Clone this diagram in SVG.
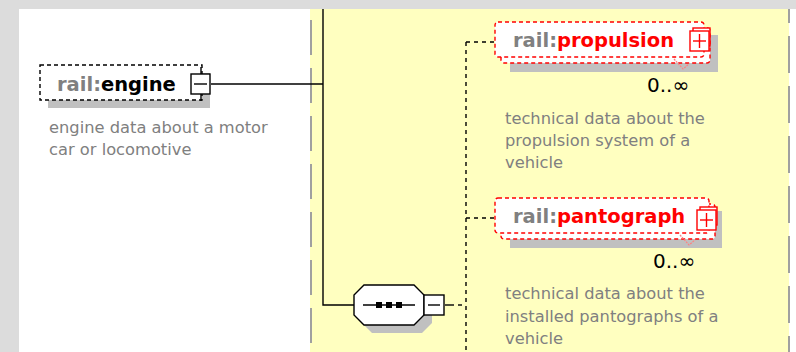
<svg xmlns="http://www.w3.org/2000/svg" width="796" height="352" viewBox="0 0 796 352">
<style>
.nm{font-family:"DejaVu Sans","Liberation Sans",sans-serif;font-weight:bold;font-size:19.5px}
.pre{fill:#808080}
.desc{font-family:"DejaVu Sans","Liberation Sans",sans-serif;font-size:16.3px;fill:#808080}
.occ{font-family:"DejaVu Sans","Liberation Sans",sans-serif;font-size:20px;fill:#000}
.shadow{fill:#c0c0c0}
.opt{fill:#fff;stroke:#ff0000;stroke-width:1.4;stroke-dasharray:4 3}
.btn{fill:#fff;stroke:#ff0000;stroke-width:1.4}
.conn{fill:none;stroke:#000;stroke-width:1.4}
.dash{fill:none;stroke:#000;stroke-width:1.4;stroke-dasharray:4 4}
</style>
<rect x="0" y="0" width="796" height="352" fill="#dcdcdc"/>
<rect x="19" y="9" width="777" height="343" fill="#ffffff"/>
<rect x="310" y="9" width="479" height="343" fill="#ffffc0"/>
<line x1="311" y1="20" x2="311" y2="352" stroke="#a0a0a0" stroke-width="2" stroke-dasharray="35 13"/>
<line x1="789" y1="9" x2="789" y2="352" stroke="#a0a0a0" stroke-width="2" stroke-dasharray="14 13 37 13 37 13 37 13 37 13 37 13 37 13 37 13"/>

<g id="connectors">
<polyline class="conn" points="211,84 323,84"/>
<polyline class="conn" points="323,9 323,305 355,305"/>
<line class="conn" x1="445" y1="305" x2="454" y2="305"/>
<line class="dash" x1="458" y1="305" x2="466" y2="305"/>
<line class="dash" x1="466" y1="42" x2="466" y2="352"/>
<line class="dash" x1="466" y1="42" x2="495" y2="42"/>
<line class="dash" x1="466" y1="218" x2="495" y2="218"/>
</g>

<g id="engine">
<rect class="shadow" x="48" y="73" width="162" height="35"/>
<rect x="40" y="65" width="162" height="35" fill="#fff" stroke="#000" stroke-width="1.4" stroke-dasharray="4 3"/>
<text class="nm" x="57" y="91"><tspan class="pre">rail:</tspan><tspan fill="#000">engine</tspan></text>
<line x1="201" y1="67" x2="201" y2="101" stroke="#000" stroke-width="1.4"/>
<rect x="191" y="74" width="19" height="20" fill="#fff" stroke="#000" stroke-width="1.4"/>
<line x1="194" y1="84" x2="207" y2="84" stroke="#000" stroke-width="1.4"/>
<text class="desc" x="49" y="133">engine data about a motor</text>
<text class="desc" x="49" y="155">car or locomotive</text>
</g>

<g id="sequence">
<polygon class="shadow" points="372,293 422,293 432,303 432,323 422,333 372,333 362,323 362,303"/>
<polygon points="364,285 414,285 424,295 424,315 414,325 364,325 354,315 354,295" fill="#fff" stroke="#000" stroke-width="1.4"/>
<line x1="363" y1="305" x2="415" y2="305" stroke="#000" stroke-width="1.4"/>
<rect x="376" y="302" width="6" height="6" fill="#000"/>
<rect x="386" y="302" width="6" height="6" fill="#000"/>
<rect x="396" y="302" width="6" height="6" fill="#000"/>
<rect x="424" y="295" width="20" height="20" fill="#fff" stroke="#000" stroke-width="1.4"/>
<line x1="428" y1="305" x2="440" y2="305" stroke="#000" stroke-width="1.4"/>
</g>

<g id="propulsion">
<rect class="shadow" x="510" y="35" width="208" height="37"/>
<rect class="opt" x="501" y="28" width="209" height="35" rx="3"/>
<rect class="opt" x="495" y="22" width="209" height="35" rx="3"/>
<text class="nm" x="513" y="47"><tspan class="pre">rail:</tspan><tspan fill="#ff0000">propulsion</tspan></text>
<rect class="btn" x="693" y="28" width="17" height="18"/>
<rect class="btn" x="690" y="31" width="19" height="20"/>
<line x1="693" y1="41" x2="706" y2="41" stroke="#ff0000" stroke-width="1.4"/>
<line x1="699.5" y1="34" x2="699.5" y2="48" stroke="#ff0000" stroke-width="1.4"/>
<polyline points="674,59 683,69 689,64" fill="none" stroke="#ff8080" stroke-width="1.2" stroke-dasharray="2 1"/>
<text class="occ" x="647" y="92">0..∞</text>
<text class="desc" x="505" y="124">technical data about the</text>
<text class="desc" x="505" y="146">propulsion system of a</text>
<text class="desc" x="505" y="168">vehicle</text>
</g>

<g id="pantograph">
<rect class="shadow" x="510" y="211" width="212" height="37"/>
<rect class="opt" x="501" y="204" width="214" height="35" rx="3"/>
<rect class="opt" x="495" y="198" width="214" height="35" rx="3"/>
<text class="nm" x="513" y="223"><tspan class="pre">rail:</tspan><tspan fill="#ff0000">pantograph</tspan></text>
<rect class="btn" x="700" y="207" width="17" height="18"/>
<rect class="btn" x="697" y="210" width="19" height="20"/>
<line x1="700" y1="220" x2="713" y2="220" stroke="#ff0000" stroke-width="1.4"/>
<line x1="706.5" y1="213" x2="706.5" y2="227" stroke="#ff0000" stroke-width="1.4"/>
<polyline points="680,235 689,245 695,240" fill="none" stroke="#ff8080" stroke-width="1.2" stroke-dasharray="2 1"/>
<text class="occ" x="653" y="268">0..∞</text>
<text class="desc" x="505" y="299">technical data about the</text>
<text class="desc" x="505" y="322">installed pantographs of a</text>
<text class="desc" x="505" y="344">vehicle</text>
</g>
</svg>
